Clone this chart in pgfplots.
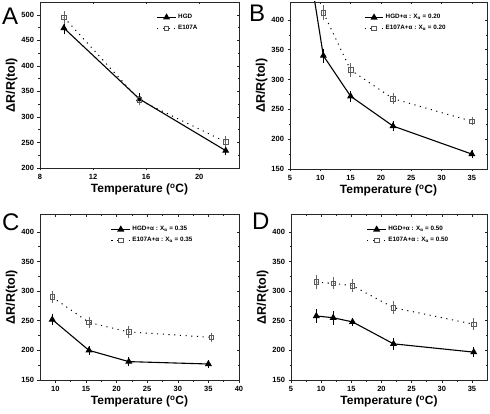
\documentclass[border=0pt]{standalone}
\usepackage{fontspec}
\setmainfont{Liberation Sans}
\usepackage{pgfplots}
\pgfplotsset{compat=1.18}

\pgfplotsset{
  panel/.style={
    scale only axis, anchor=south west,
    axis line style={line width=0.7pt, black!85},
    tick align=outside, tick pos=left,
    minor tick num=1,
    major tick length=2.5pt, minor tick length=1.5pt,
    every tick/.style={black!85, line width=0.5pt},
    ticklabel style={font=\fontsize{7.5}{8}\selectfont\bfseries},
    /pgf/number format/assume math mode=true,
    xlabel={Temperature (\textsuperscript{o}C)},
    ylabel={ΔR/R(tol)},
    xlabel style={font=\fontsize{12}{14}\selectfont\bfseries, yshift=2pt},
    ylabel style={font=\fontsize{12.5}{15}\selectfont\bfseries, yshift=-3pt},
    legend style={draw=none, fill=none, font=\fontsize{6.3}{7}\selectfont\bfseries,
      anchor=north west, row sep=1pt},
    legend cell align=left,
    legend image code/.code={
      \draw[#1] (0cm,0cm) -- (0.65cm,0cm);
      \draw[#1, only marks] plot coordinates {(0.33cm,0cm)};
    },
  },
  mirror/.style={
    scale only axis, anchor=south west,
    axis line style={line width=0.7pt, black!85},
    tick align=inside, tick pos=right,
    minor tick num=1,
    major tick length=2.5pt, minor tick length=1.5pt,
    every tick/.style={black!85, line width=0.5pt},
    xticklabels={}, yticklabels={},
  },
  hgd/.style={black, line width=1.1pt, mark=triangle*, mark size=3pt,
    mark options={solid, fill=black},
    error bars/.cd, y dir=both, y explicit,
    error bar style={black, line width=0.6pt, solid}, error mark options={black, line width=0.6pt, mark size=1.8pt}},
  e107/.style={black, line width=1.0pt, dash pattern=on 1.1pt off 4.6pt,
    mark=square, mark size=2.3pt,
    mark options={solid, draw=black!65, fill=white, line width=0.8pt},
    error bars/.cd, y dir=both, y explicit,
    error bar style={black!60, line width=0.6pt, solid}, error mark options={black!60, line width=0.6pt, mark size=1.8pt}},
}

\begin{document}
\begin{tikzpicture}
\useasboundingbox (0,0) rectangle (490pt,-414pt);

% ---------------- Panel A ----------------
\begin{axis}[panel, at={(40pt,-168pt)}, width=199pt, height=166pt,
  xmin=8, xmax=23, ymin=200, ymax=525,
  xtick={8,12,16,20}, ytick={200,250,...,500},
  legend style={at={(rel axis cs:0.57,0.95)}}]
\addplot[hgd] table[x=x, y=y, y error=e] {
x y e
9.8 474 9
15.5 335 9
22 234 6
};
\addlegendentry{HGD}
\addplot[e107] table[x=x, y=y, y error=e] {
x y e
9.8 495 9
15.5 333 7
22 251 8
};
\addlegendentry{E107A}
\end{axis}
\begin{axis}[mirror, at={(40pt,-168pt)}, width=199pt, height=166pt,
  xmin=8, xmax=23, ymin=200, ymax=525,
  xtick={8,12,16,20}, ytick={200,250,...,500}]
\end{axis}
\node[anchor=north west, inner sep=0pt, font=\fontsize{24}{24}\selectfont] at (2pt,-8pt) {A};

% ---------------- Panel B ----------------
\begin{axis}[panel, at={(290pt,-169pt)}, width=197pt, height=167pt,
  xmin=5, xmax=37.5, ymin=150, ymax=430,
  xtick={5,10,...,35}, ytick={150,200,...,400},
  legend style={at={(rel axis cs:0.36,0.95)}}]
\addplot[black, line width=1.1pt, forget plot] coordinates {(8,500) (10.5,340)};
\addplot[hgd] table[x=x, y=y, y error=e] {
x y e
10.5 340 9
15 272 6
22 222 5
35 175 4
};
\addlegendentry{HGD+α : X\textsubscript{α} = 0.20}
\addplot[e107] table[x=x, y=y, y error=e] {
x y e
10.5 412 10
15 316 8
22 268 6
35 230 4
};
\addlegendentry{E107A+α : X\textsubscript{α} = 0.20}
\end{axis}
\begin{axis}[mirror, at={(290pt,-169pt)}, width=197pt, height=167pt,
  xmin=5, xmax=37.5, ymin=150, ymax=430,
  xtick={5,10,...,35}, ytick={150,200,...,400}]
\end{axis}
\node[anchor=north west, inner sep=0pt, font=\fontsize{24}{24}\selectfont] at (249pt,-5pt) {B};

% ---------------- Panel C ----------------
\begin{axis}[panel, at={(40pt,-380pt)}, width=199pt, height=166pt,
  xmin=7.5, xmax=40, ymin=150, ymax=430,
  xtick={10,15,...,40}, ytick={150,200,...,400},
  legend style={at={(rel axis cs:0.34,0.95)}}]
\addplot[hgd] table[x=x, y=y, y error=e] {
x y e
9.5 252 7
15.5 200 4
22 181 4
35 177 4
};
\addlegendentry{HGD+α : X\textsubscript{α} = 0.35}
\addplot[e107] table[x=x, y=y, y error=e] {
x y e
9.5 290 7
15.5 247 6
22 231 7
35.5 222 5
};
\addlegendentry{E107A+α : X\textsubscript{α} = 0.35}
\end{axis}
\begin{axis}[mirror, at={(40pt,-380pt)}, width=199pt, height=166pt,
  xmin=7.5, xmax=40, ymin=150, ymax=430,
  xtick={10,15,...,40}, ytick={150,200,...,400}]
\end{axis}
\node[anchor=north west, inner sep=0pt, font=\fontsize{24}{24}\selectfont] at (2pt,-214pt) {C};

% ---------------- Panel D ----------------
\begin{axis}[panel, at={(291pt,-380pt)}, width=196pt, height=166pt,
  xmin=5, xmax=37.5, ymin=150, ymax=430,
  xtick={5,10,...,35}, ytick={150,200,...,400},
  legend style={at={(rel axis cs:0.37,0.95)}}]
\addplot[hgd] table[x=x, y=y, y error=e] {
x y e
9.2 258 8
12 255 9
15.2 248 4
22 211 7
35.3 197 6
};
\addlegendentry{HGD+α : X\textsubscript{α} = 0.50}
\addplot[e107] table[x=x, y=y, y error=e] {
x y e
9.2 315 9
12 313 7
15.2 309 8
22 272 8
35.3 244 7
};
\addlegendentry{E107A+α : X\textsubscript{α} = 0.50}
\end{axis}
\begin{axis}[mirror, at={(291pt,-380pt)}, width=196pt, height=166pt,
  xmin=5, xmax=37.5, ymin=150, ymax=430,
  xtick={5,10,...,35}, ytick={150,200,...,400}]
\end{axis}
\node[anchor=north west, inner sep=0pt, font=\fontsize{24}{24}\selectfont] at (252pt,-213pt) {D};

\end{tikzpicture}
\end{document}
